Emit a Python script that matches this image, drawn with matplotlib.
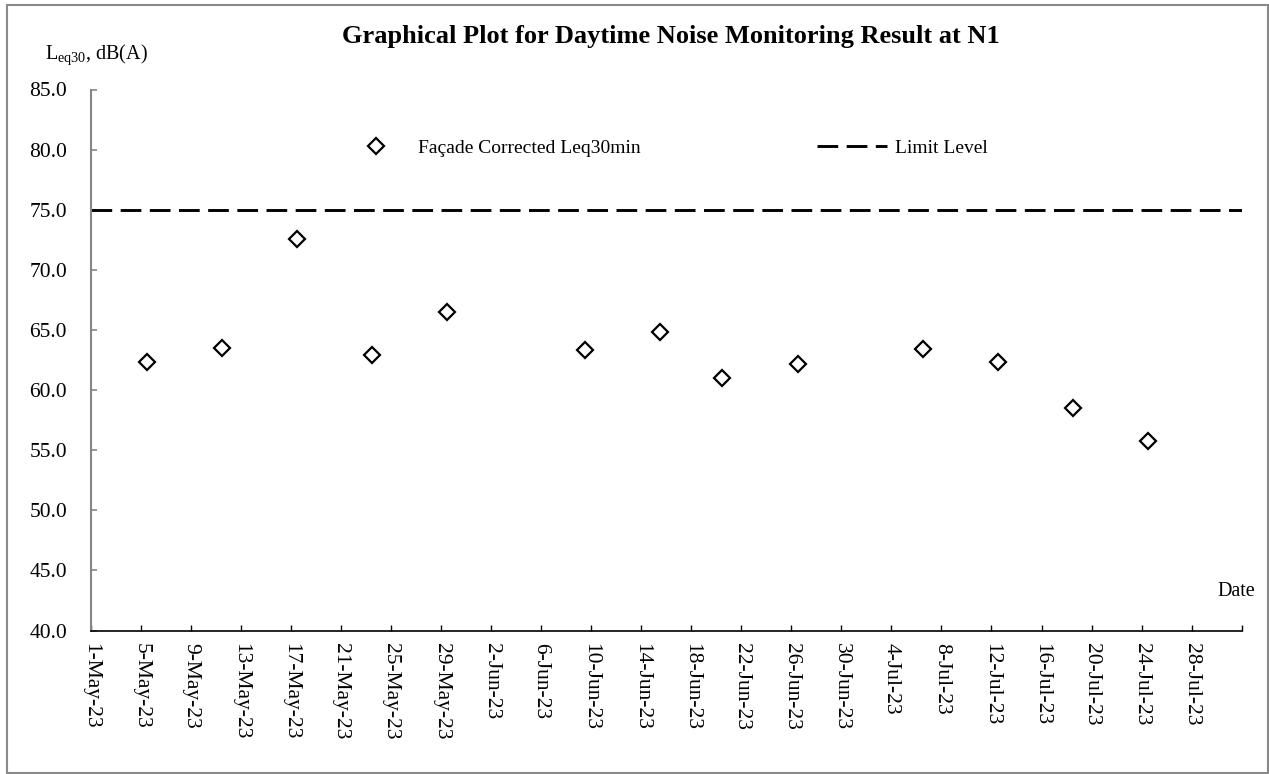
import matplotlib
matplotlib.use("Agg")
import matplotlib.pyplot as plt
from matplotlib.patches import Rectangle
from matplotlib.lines import Line2D
import pandas as pd

plt.rcParams['font.family'] = ['Liberation Serif', 'DejaVu Serif']
plt.rcParams['mathtext.fontset'] = 'custom'
plt.rcParams['mathtext.rm'] = 'Liberation Serif'

# ---- data ----
dates = ["2023-05-05 12:00", "2023-05-11 12:00", "2023-05-17 12:00", "2023-05-23 12:00",
         "2023-05-29 12:00", "2023-06-09 12:00", "2023-06-15 12:00", "2023-06-20 12:00",
         "2023-06-26 12:00", "2023-07-06 12:00", "2023-07-12 12:00", "2023-07-18 12:00",
         "2023-07-24 12:00"]
leq = [62.3, 63.5, 72.6, 62.9, 66.5, 63.3, 64.8, 61.0, 62.2, 63.4, 62.3, 58.5, 55.75]
limit_level = 75.0
x_start = "2023-05-01"
x_end = "2023-08-01"
tick_step_days = 4
y_ticks = [40, 45, 50, 55, 60, 65, 70, 75, 80, 85]
title = "Graphical Plot for Daytime Noise Monitoring Result at N1"

W, H = 1269, 774
fig = plt.figure(figsize=(W / 100, H / 100), dpi=100)
ax = fig.add_axes([90.7 / W, 1 - 630.5 / H, (1241.7 - 90.7) / W, (630.5 - 89.5) / H])

xd = pd.to_datetime(dates)
x0 = pd.Timestamp(x_start)
x1 = pd.Timestamp(x_end)

MS, MEW = 8.0, 1.6
LW, DASH = 2.1, (7.1, 2.9)

ax.plot(xd, leq, linestyle='none', marker='D', markersize=MS, markerfacecolor='white',
        markeredgecolor='black', markeredgewidth=MEW, zorder=3)
ax.plot([x0, x1], [limit_level, limit_level], color='black', linewidth=LW,
        dashes=DASH, zorder=2)

ax.set_xlim(x0, x1)
ax.set_ylim(40, 85)
ax.set_yticks(y_ticks)
ax.set_yticklabels([f"{v:.1f}" for v in y_ticks])

ticks = pd.date_range(x0, x1, freq=f"{tick_step_days}D")
ax.set_xticks(ticks)
labels = [f"{d.day}-{d:%b-%y}" if d < pd.Timestamp("2023-07-31") else "" for d in ticks]
ax.set_xticklabels(labels, rotation=-90, ha='center', va='top')

for s in ['top', 'right']:
    ax.spines[s].set_visible(False)
ax.spines['left'].set_color('#868686')
ax.spines['left'].set_linewidth(1.5)
ax.spines['bottom'].set_color('black')
ax.spines['bottom'].set_linewidth(1.2)
ax.tick_params(axis='y', direction='in', length=4.5, width=1.2, color='#868686',
               labelsize=15.5, pad=17)
ax.tick_params(axis='x', direction='in', length=4.5, width=1.0, color='black',
               labelsize=15.5, pad=9)

# legends
FS_LEG = 14
em = FS_LEG * 100 / 72.0
h1 = Line2D([], [], linestyle='none', marker='D', markersize=MS, markerfacecolor='white',
            markeredgecolor='black', markeredgewidth=MEW)
h2 = Line2D([], [], color='black', linewidth=LW, dashes=DASH)
fig.legend([h1], ['Façade Corrected Leq30min'], loc='center left',
           bbox_to_anchor=((376 - 0.5 * em) / W, 1 - 148 / H), frameon=False,
           fontsize=FS_LEG, handlelength=1.0, handletextpad=(418 - 376 - 0.5 * em) / em,
           borderaxespad=0, borderpad=0)
fig.legend([h2], ['Limit Level'], loc='center left',
           bbox_to_anchor=(817 / W, 1 - 148 / H), frameon=False, fontsize=FS_LEG,
           handlelength=70 / em, handletextpad=8 / em, borderaxespad=0, borderpad=0)

fig.text(671 / W, 1 - 43 / H, title, ha='center', va='baseline', fontsize=19,
         fontweight='bold')
fig.text(45 / W, 1 - 59 / H, r'L$_{\mathregular{eq30}}$, dB(A)', ha='left', va='baseline',
         fontsize=14.5)
fig.text(1255 / W, 1 - 591 / H, 'Date', ha='right', va='center', fontsize=14.5)

fig.patches.append(Rectangle((7 / W, 1 - 773 / H), (1267.5 - 7) / W, (773 - 5) / H,
                             transform=fig.transFigure, fill=False, edgecolor='#898989',
                             linewidth=1.5))

fig.savefig("out.png", dpi=100)
